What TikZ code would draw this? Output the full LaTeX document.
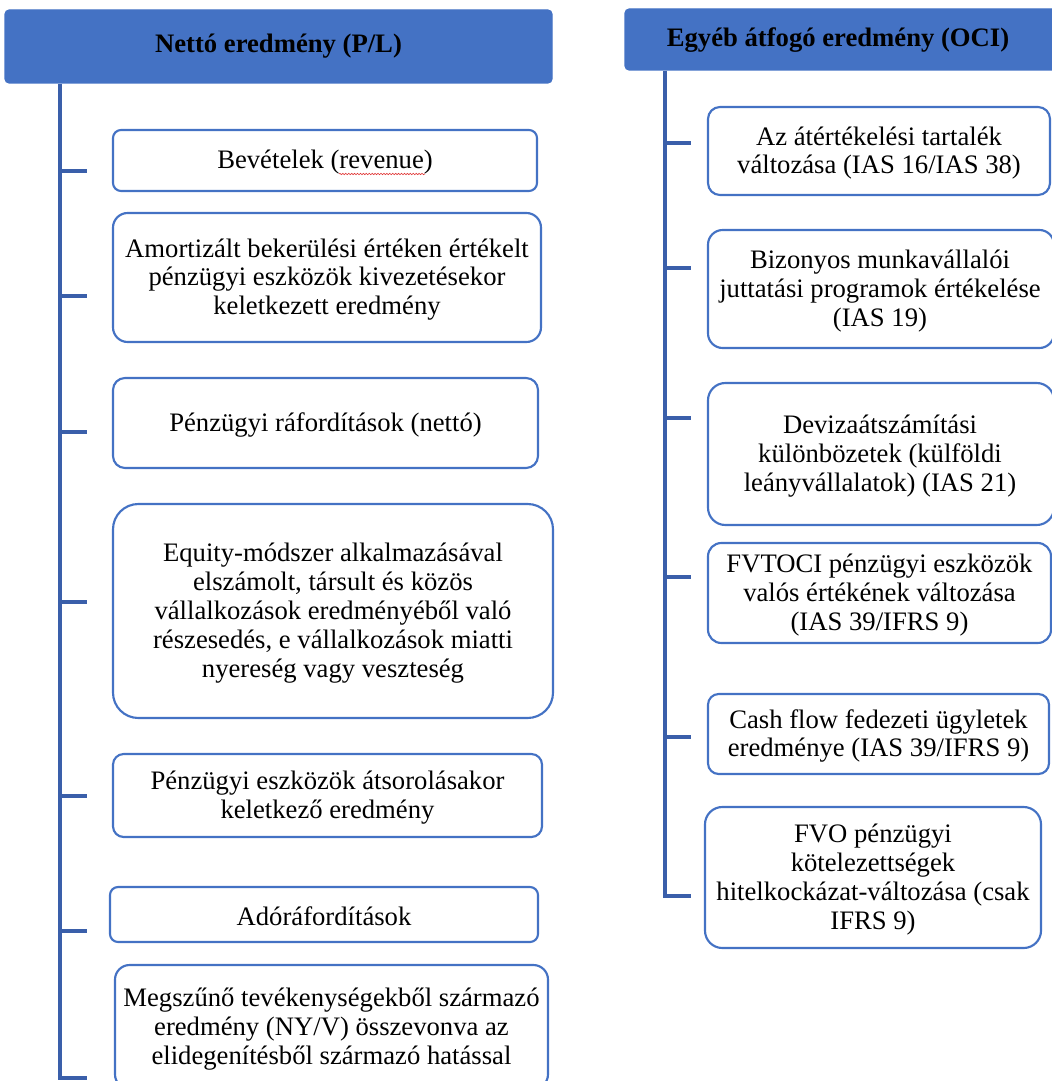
\documentclass[tikz,border=0pt]{standalone}
\usepackage{fontspec}
\setmainfont{Liberation Serif}
\usetikzlibrary{fit,decorations.pathmorphing}

\definecolor{accent}{HTML}{4472C4}
\definecolor{linkblue}{HTML}{3A5FAA}
\definecolor{spellred}{HTML}{E03030}

\tikzset{
  head/.style={fill=accent, draw=accent, line width=0.8pt, rounded corners=3pt, inner sep=0pt},
  item/.style={draw=accent, fill=white, line width=1.6pt, inner sep=0pt},
  headtext/.style={inner sep=0pt, align=center, font=\fontsize{20}{22}\selectfont\bfseries},
  itemtext/.style={inner sep=0pt, align=center, yshift=-1.5pt, font=\fontsize{20}{21.6}\selectfont},
  conn/.style={draw=linkblue, line width=2.4pt},
}

\begin{document}
\begin{tikzpicture}[x=0.75pt,y=-0.75pt]
\useasboundingbox (0,0) rectangle (1052,1081);
\clip (0,0) rectangle (1052,1081);

% ---------- left column: P/L ----------
\node[head, fit={(5,10)(552,83)}] (hl) {};
\node[headtext] (hlt) at (hl.center) {Nettó eredmény (P/L)};

\node[item, rounded corners=6pt,  fit={(113,130)(537,191)}] (l1) {};
\node[itemtext] (l1t) at (l1.center) {Bevételek (revenue)};
\node[item, rounded corners=11pt, fit={(113,213)(541,342)}] (l2) {};
\node[itemtext] (l2t) at (l2.center)
  {Amortizált bekerülési értéken értékelt\\ pénzügyi eszközök kivezetésekor\\ keletkezett eredmény};
\node[item, rounded corners=9pt,  fit={(113,378)(538,468)}] (l3) {};
\node[itemtext] (l3t) at (l3.center) {Pénzügyi ráfordítások (nettó)};
\node[item, rounded corners=19pt, fit={(113,504)(553,718)}] (l4) {};
\node[itemtext] (l4t) at (l4.center)
  {Equity-módszer alkalmazásával\\ elszámolt, társult és közös\\ vállalkozások eredményéből való\\ részesedés, e vállalkozások miatti\\ nyereség vagy veszteség};
\node[item, rounded corners=8pt,  fit={(113,754)(542,837)}] (l5) {};
\node[itemtext] (l5t) at (l5.center)
  {Pénzügyi eszközök átsorolásakor\\ keletkező eredmény};
\node[item, rounded corners=6pt,  fit={(110,887)(538,942)}] (l6) {};
\node[itemtext] (l6t) at (l6.center) {Adóráfordítások};
\node[item, rounded corners=11pt, fit={(115,965)(548,1089)}] (l7) {};
\node[itemtext] (l7t) at (l7.center)
  {Megszűnő tevékenységekből származó\\ eredmény (NY/V) összevonva az\\ elidegenítésből származó hatással};

% spell-check squiggle under "revenue"
\draw[spellred, line width=0.45pt, decorate,
  decoration={snake, amplitude=0.5pt, segment length=2.2pt}] (339,174) -- (425,174);

% spine and branch ticks
\coordinate (ls) at (60,0);
\coordinate (lt1) at (87,171);
\coordinate (lt2) at (87,296);
\coordinate (lt3) at (87,432);
\coordinate (lt4) at (87,602);
\coordinate (lt5) at (87,796);
\coordinate (lt6) at (87,931);
\coordinate (lt7) at (87,1078);
\draw[conn] (hl.south -| ls) -- (lt7 -| ls) -- (lt7);
\foreach \t in {lt1,lt2,lt3,lt4,lt5,lt6}
  \draw[conn] (\t -| ls) -- (\t);

% ---------- right column: OCI ----------
\node[head, fit={(625,9)(1062,70)}] (hr) {};
\node[headtext] (hrt) at (838,40) {Egyéb átfogó eredmény (OCI)};

\node[item, rounded corners=9pt,  fit={(708,107)(1050,195)}] (r1) {};
\node[itemtext] (r1t) at (r1.center)
  {Az átértékelési tartalék\\ változása (IAS 16/IAS 38)};
\node[item, rounded corners=11pt, fit={(708,230)(1054,348)}] (r2) {};
\node[itemtext] (r2t) at (880,289)
  {Bizonyos munkavállalói\\ juttatási programok értékelése\\ (IAS 19)};
\node[item, rounded corners=13pt, fit={(708,383)(1054,525)}] (r3) {};
\node[itemtext] (r3t) at (880,454)
  {Devizaátszámítási\\ különbözetek (külföldi\\ leányvállalatok) (IAS 21)};
\node[item, rounded corners=10pt, fit={(708,543)(1051,643)}] (r4) {};
\node[itemtext] (r4t) at (r4.center)
  {FVTOCI pénzügyi eszközök\\ valós értékének változása\\ (IAS 39/IFRS 9)};
\node[item, rounded corners=8pt,  fit={(708,694)(1049,774)}] (r5) {};
\node[itemtext] (r5t) at (r5.center)
  {Cash flow fedezeti ügyletek\\ eredménye (IAS 39/IFRS 9)};
\node[item, rounded corners=13pt, fit={(705,807)(1041,948)}] (r6) {};
\node[itemtext] (r6t) at (r6.center)
  {FVO pénzügyi\\ kötelezettségek\\ hitelkockázat-változása (csak\\ IFRS 9)};

\coordinate (rs) at (665,0);
\coordinate (rt1) at (691,143);
\coordinate (rt2) at (691,268);
\coordinate (rt3) at (691,418);
\coordinate (rt4) at (691,577);
\coordinate (rt5) at (691,737);
\coordinate (rt6) at (691,896);
\draw[conn] (hr.south -| rs) -- (rt6 -| rs) -- (rt6);
\foreach \t in {rt1,rt2,rt3,rt4,rt5}
  \draw[conn] (\t -| rs) -- (\t);
\end{tikzpicture}
\end{document}
